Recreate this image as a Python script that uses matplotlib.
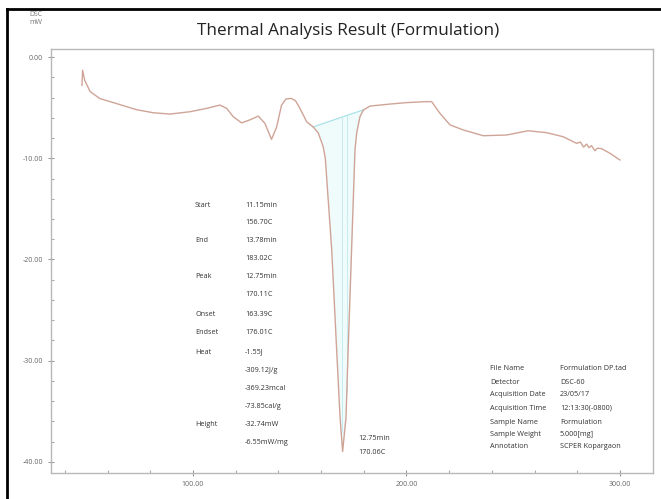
import matplotlib.pyplot as plt
import numpy as np
from matplotlib.lines import Line2D

# DSC curve (temperature C, heat flow mW)
temp = [48.0, 48.3, 49.3, 51.8, 56.4, 64.3, 73.6, 81.4, 89.2, 98.6, 106.4, 112.6,
        115.8, 118.9, 122.8, 126.7, 130.6, 133.7, 136.8, 139.2, 141.5, 143.5, 146.0,
        148.0, 150.1, 153.3, 156.3, 158.7, 161.0, 162.0, 165.0, 167.3, 168.9, 170.1,
        171.7, 172.7, 174.3, 175.9, 176.7, 178.2, 179.8, 182.9, 192.3, 200.0, 209.5,
        211.8, 215.7, 220.4, 226.6, 236.0, 246.9, 257.0, 265.7, 273.4, 279.7, 281.5,
        283.0, 284.4, 285.5, 286.7, 288.3, 289.5, 291.4, 295.3, 300.0]
dsc = [-2.8, -1.3, -2.3, -3.4, -4.1, -4.6, -5.2, -5.5, -5.63, -5.4, -5.07, -4.74,
       -5.07, -5.9, -6.5, -6.2, -5.83, -6.55, -8.13, -6.9, -4.74, -4.15, -4.08,
       -4.3, -5.07, -6.4, -6.9, -7.5, -8.85, -10.0, -19.06, -28.9, -35.6, -38.98,
       -35.6, -28.9, -19.06, -9.19, -7.5, -5.9, -5.23, -4.84, -4.64, -4.5, -4.4,
       -4.4, -5.56, -6.7, -7.2, -7.77, -7.7, -7.28, -7.47, -7.87, -8.52, -8.4,
       -8.9, -8.6, -8.95, -8.75, -9.25, -9.0, -9.05, -9.5, -10.17]

# peak baseline (start / end) and peak markers
base_x = [156.3, 180.0]
base_y = [-6.9, -5.2]
peak_lines = [169.6, 172.0]

left_labels = ["Start", "", "End", "", "Peak", "", "Onset", "Endset", "Heat", "", "", "", "Height", ""]
left_values = ["11.15min", "156.70C", "13.78min", "183.02C", "12.75min", "170.11C",
               "163.39C", "176.01C", "-1.55J", "-309.12J/g", "-369.23mcal",
               "-73.85cal/g", "-32.74mW", "-6.55mW/mg"]
left_rows_y = [205, 222, 240, 258, 277, 295, 314, 333, 352, 370, 388, 406, 424, 443]

info_labels = ["File Name", "Detector", "Acquisition Date", "Acquisition Time",
               "Sample Name", "Sample Weight", "Annotation"]
info_values = ["Formulation DP.tad", "DSC-60", "23/05/17", "12:13:30(-0800)",
               "Formulation", "5.000[mg]", "SCPER Kopargaon"]
info_rows_y = [368, 382, 395, 408, 422, 434, 447]

plt.rcParams['font.family'] = ['Open Sans', 'DejaVu Sans']

W, H = 661, 499
fig = plt.figure(figsize=(W / 100, H / 100), dpi=100)
ax = fig.add_axes([51 / W, 1 - 473 / H, (653 - 51) / W, (473 - 49) / H])

ax.set_xlim(33.5, 315.5)
ax.set_ylim(-41.1, 0.8)

# peak area
bx = np.linspace(base_x[0], base_x[1], 200)
by = np.interp(bx, base_x, base_y)
cy = np.interp(bx, temp, dsc)
ax.fill_between(bx, cy, by, color='#f0fbfc', lw=0, zorder=1)
ax.plot(base_x, base_y, color='#a8e2e7', lw=0.9, zorder=2)
for px in peak_lines:
    ax.plot([px, px], [np.interp(px, base_x, base_y), np.interp(px, temp, dsc) + 0.5],
            color='#c6ecef', lw=0.7, zorder=2)

ax.plot(temp, dsc, color='#cfa497', lw=1.0, zorder=3)

# axes styling
for s in ax.spines.values():
    s.set_color('#b8b8b8')
    s.set_linewidth(1)
ax.set_xticks([100, 200, 300])
ax.set_xticks(np.arange(40, 320, 20), minor=True)
ax.set_yticks([0, -10, -20, -30, -40])
ax.set_yticks(np.arange(-40, 1, 2), minor=True)
ax.set_xticklabels(["100.00", "200.00", "300.00"])
ax.set_yticklabels(["0.00", "-10.00", "-20.00", "-30.00", "-40.00"])
ax.tick_params(which='major', direction='inout', length=5, width=0.8, color='#999999',
               labelsize=5, labelcolor='#666666', pad=3)
ax.tick_params(which='minor', direction='in', length=2.5, width=0.8, color='#aaaaaa')

# annotation texts placed in figure pixels
def ftxt(x, y, s, **kw):
    fig.text(x / W, 1 - y / H, s, fontsize=5.2, color='#333333', va='center', **kw)

for lab, val, yy in zip(left_labels, left_values, left_rows_y):
    if lab:
        ftxt(195, yy, lab)
    ftxt(245, yy, val)

ftxt(358, 438, "12.75min")
ftxt(358, 453, "170.06C")

for lab, val, yy in zip(info_labels, info_values, info_rows_y):
    ftxt(490, yy, lab)
    ftxt(560, yy, val)

fig.text(348 / W, 1 - 31 / H, "Thermal Analysis Result (Formulation)", fontsize=12.3,
         color='#222222', ha='center', va='center')
fig.text(36 / W, 1 - 15 / H, "DSC", fontsize=5, color='#777777', ha='center', va='center')
fig.text(36 / W, 1 - 23 / H, "mW", fontsize=5, color='#777777', ha='center', va='center')

# black frame at left and top
fig.add_artist(Line2D([7 / W, 7 / W], [0, 1 - 9 / H], color='black', lw=2, transform=fig.transFigure))
fig.add_artist(Line2D([7 / W, 1], [1 - 9 / H, 1 - 9 / H], color='black', lw=2, transform=fig.transFigure))

fig.savefig('out.png', dpi=100)
